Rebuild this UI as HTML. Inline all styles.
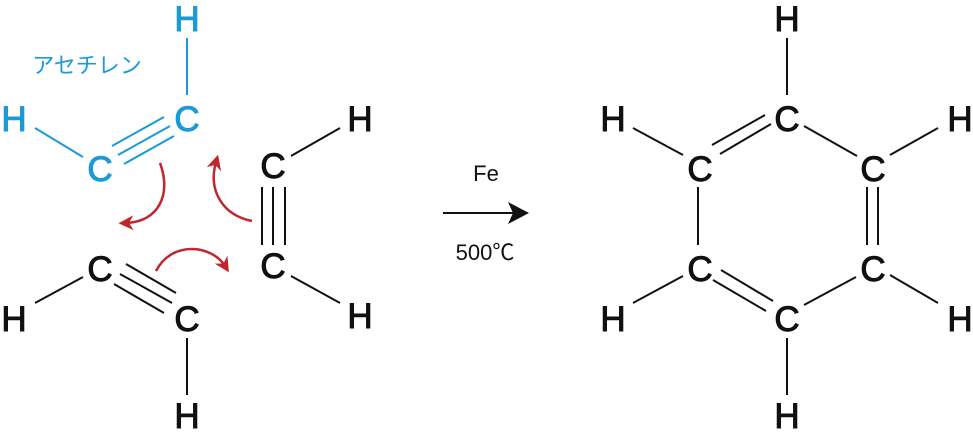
<!DOCTYPE html>
<html><head><meta charset="utf-8"><style>
html,body{margin:0;padding:0;background:#fff;}
svg{display:block}
text{font-family:"Liberation Sans","Noto Sans CJK JP",sans-serif;text-anchor:middle}
.a{font-size:35px;stroke-width:1px}
.b{fill:#1a9ad7;stroke:#1a9ad7}
.k{fill:#111;stroke:#111}
</style></head><body>
<svg width="973" height="433" viewBox="0 0 973 433" xmlns="http://www.w3.org/2000/svg">
<defs>
<marker id="rh" viewBox="0 0 10 10" refX="5" refY="5" markerWidth="6" markerHeight="6" orient="auto"><path d="M0,0 L10,5 L0,10 L3,5 z" fill="#c0272d"/></marker>
</defs>
<g class="a">
<text class="b" x="187" y="31">H</text>
<text class="b" x="14" y="131">H</text>
<text class="b" x="187" y="131">C</text>
<text class="b" x="100" y="181">C</text>
<text class="k" x="360" y="131">H</text>
<text class="k" x="273" y="178">C</text>
<text class="k" x="273" y="278">C</text>
<text class="k" x="360" y="328">H</text>
<text class="k" x="100" y="281">C</text>
<text class="k" x="187" y="331">C</text>
<text class="k" x="14" y="331">H</text>
<text class="k" x="187" y="428">H</text>

<text class="k" x="787" y="31">H</text>
<text class="k" x="787" y="131">C</text>
<text class="k" x="700" y="181">C</text>
<text class="k" x="873" y="181">C</text>
<text class="k" x="700" y="281">C</text>
<text class="k" x="873" y="281">C</text>
<text class="k" x="787" y="331">C</text>
<text class="k" x="787" y="428">H</text>
<text class="k" x="613" y="131">H</text>
<text class="k" x="960" y="131">H</text>
<text class="k" x="613" y="331">H</text>
<text class="k" x="960" y="331">H</text>
</g>
<text x="87" y="73" style="font-size:22px;fill:#1a9ad7;text-anchor:middle">アセチレン</text>
<text x="486" y="181" style="font-size:22px;fill:#111">Fe</text>
<text x="485" y="260" style="font-size:22px;fill:#111">500℃</text>

<g stroke="#1a9ad7" stroke-width="2" fill="none">
<line x1="187" y1="38" x2="187" y2="95"/>
<line x1="35" y1="128" x2="83" y2="157"/>
<line x1="112" y1="146" x2="164" y2="117"/>
<line x1="118" y1="155" x2="170" y2="126"/>
<line x1="124" y1="164" x2="174" y2="136"/>
</g>
<g stroke="#111" stroke-width="2" fill="none">
<line x1="291" y1="156" x2="340" y2="128"/>
<line x1="262" y1="187" x2="262" y2="245"/>
<line x1="273" y1="187" x2="273" y2="245"/>
<line x1="285" y1="187" x2="285" y2="245"/>
<line x1="291" y1="276" x2="340" y2="303"/>
<line x1="35" y1="303" x2="83" y2="277"/>
<line x1="126" y1="264" x2="176" y2="293"/>
<line x1="120" y1="274" x2="172" y2="303"/>
<line x1="114" y1="284" x2="164" y2="313"/>
<line x1="187" y1="338" x2="187" y2="395"/>

<line x1="787" y1="38" x2="787" y2="95"/>
<line x1="787" y1="338" x2="787" y2="395"/>
<line x1="712" y1="145" x2="765" y2="115"/>
<line x1="720" y1="154" x2="771" y2="124"/>
<line x1="804" y1="126" x2="857" y2="156"/>
<line x1="890" y1="155" x2="938" y2="128"/>
<line x1="633" y1="128" x2="683" y2="155"/>
<line x1="698" y1="187" x2="698" y2="245"/>
<line x1="867" y1="187" x2="867" y2="245"/>
<line x1="878" y1="187" x2="878" y2="245"/>
<line x1="713" y1="280" x2="766" y2="311"/>
<line x1="721" y1="270" x2="773" y2="301"/>
<line x1="804" y1="305" x2="856" y2="277"/>
<line x1="890" y1="275" x2="938" y2="303"/>
<line x1="633" y1="303" x2="683" y2="276"/>
<line x1="443" y1="213" x2="515" y2="213"/>
</g>
<path d="M529,213 L508,202 L513,213 L508,224 z" fill="#111"/>
<g stroke="#c0272d" stroke-width="2.5" fill="none" marker-end="url(#rh)">
<path d="M160,163 C172,195 158,222 126,223"/>
<path d="M252,221 C222,215 208,190 216,162"/>
<path d="M156,271 C172,240 212,245 225,266"/>
</g>
</svg>
</body></html>
